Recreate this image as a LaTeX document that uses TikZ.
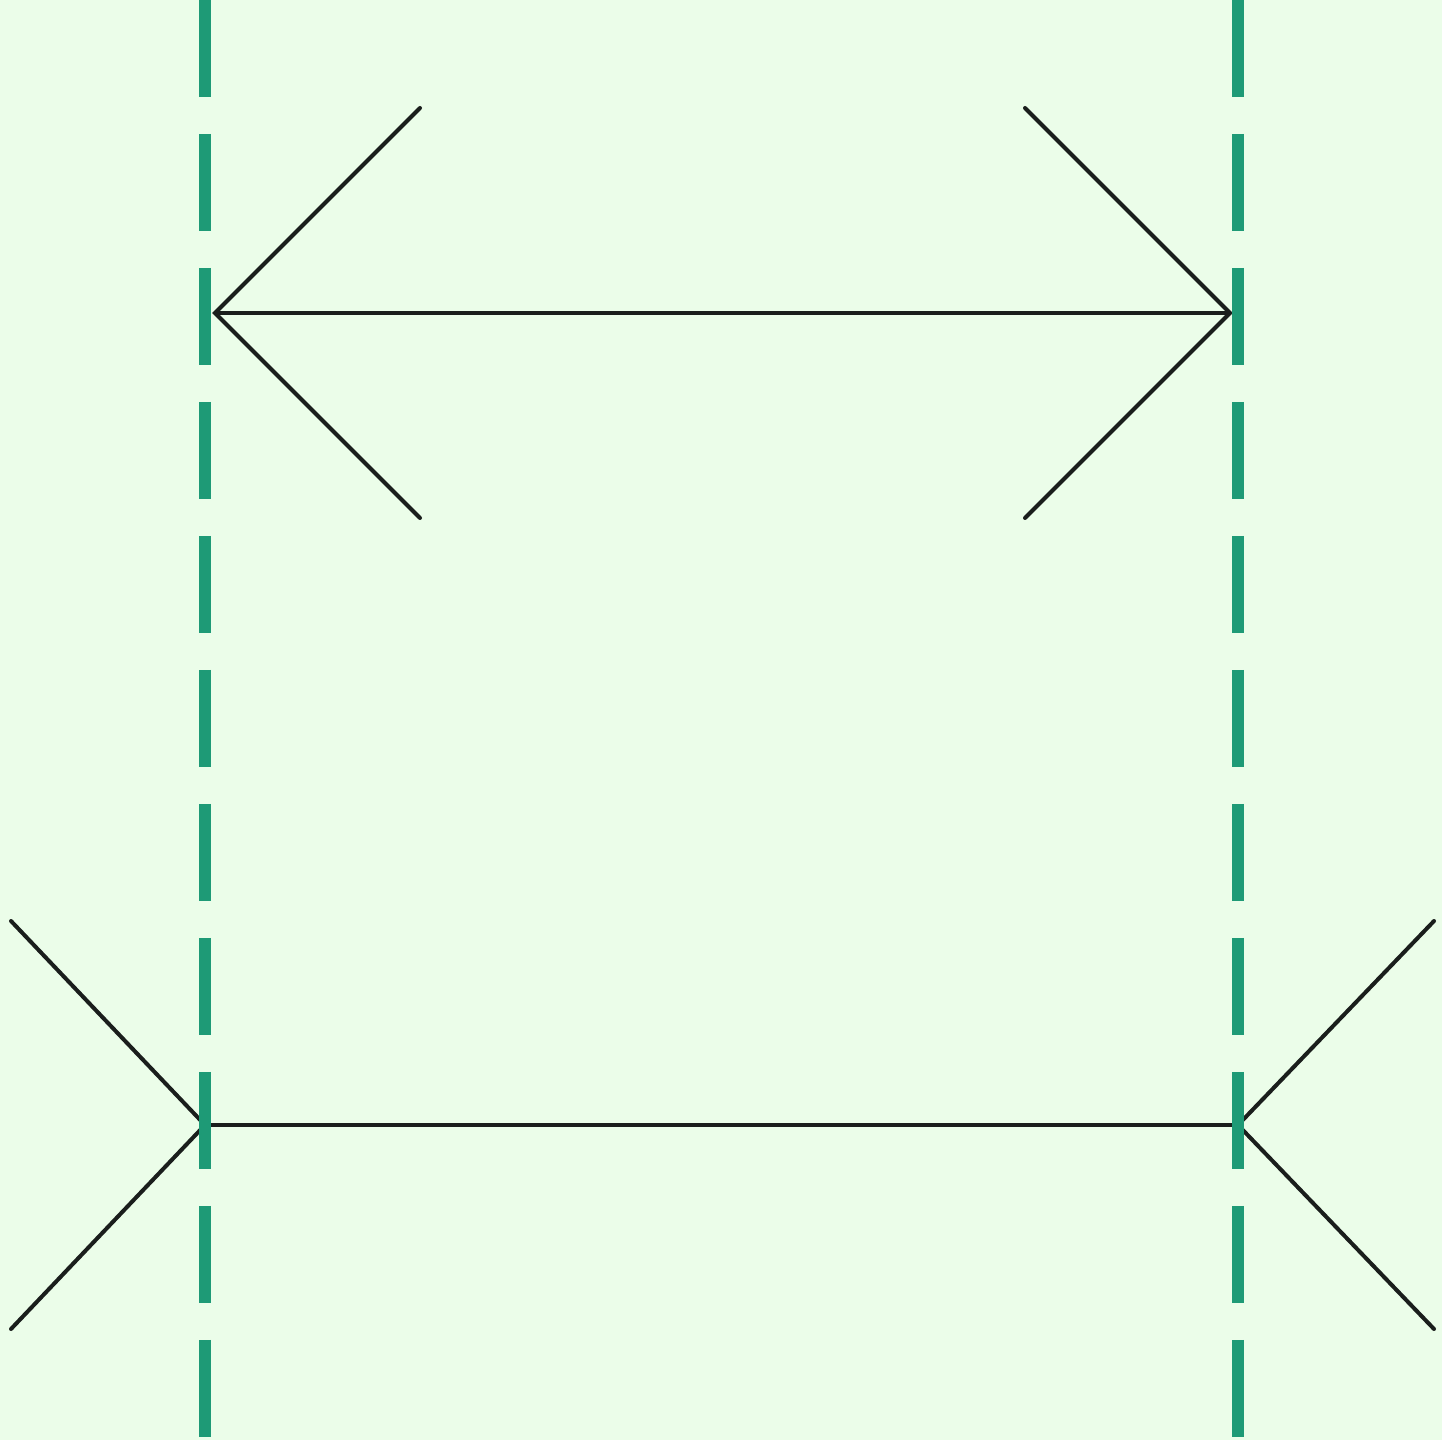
\documentclass[tikz,border=0pt]{standalone}
\usepackage{tikz}
\definecolor{bgmint}{RGB}{235,253,233}
\definecolor{guidegreen}{RGB}{30,154,118}
\definecolor{inkline}{RGB}{26,30,28}

\begin{document}
\begin{tikzpicture}[
        x=0.1mm, y=-0.1mm,
        guide/.style={draw=guidegreen, line width=1.2mm, dash pattern=on 9.7mm off 3.7mm},
        shaft/.style={draw=inkline, line width=0.4mm},
        fin/.style={draw=inkline, line width=0.4mm, line cap=round}
      ]
      \fill[bgmint] (0,0) rectangle (1442,1440);
      \useasboundingbox (0,0) rectangle (1442,1440);

      % upper figure, fins pointing outwards
      \coordinate (upL) at (215,313);
      \coordinate (upR) at (1230,313);
      \draw[shaft] (upL) -- (upR);
      \draw[fin] (420,108) -- (upL) -- (420,518);
      \draw[fin] (1025,108) -- (upR) -- (1025,518);

      % lower figure, fins pointing inwards
      \coordinate (loL) at (205,1125);
      \coordinate (loR) at (1238,1125);
      \draw[shaft] (loL) -- (loR);
      \draw[fin] (11,921) -- (loL) -- (11,1329);
      \draw[fin] (1434,921) -- (loR) -- (1434,1329);

      % guide lines, on top
      \coordinate (gLtop) at (205,0);
      \coordinate (gLbot) at (205,1440);
      \coordinate (gRtop) at (1238,0);
      \coordinate (gRbot) at (1238,1440);
      \draw[guide] (gLtop) -- (gLbot);
      \draw[guide] (gRtop) -- (gRbot);
    \end{tikzpicture}
\end{document}
